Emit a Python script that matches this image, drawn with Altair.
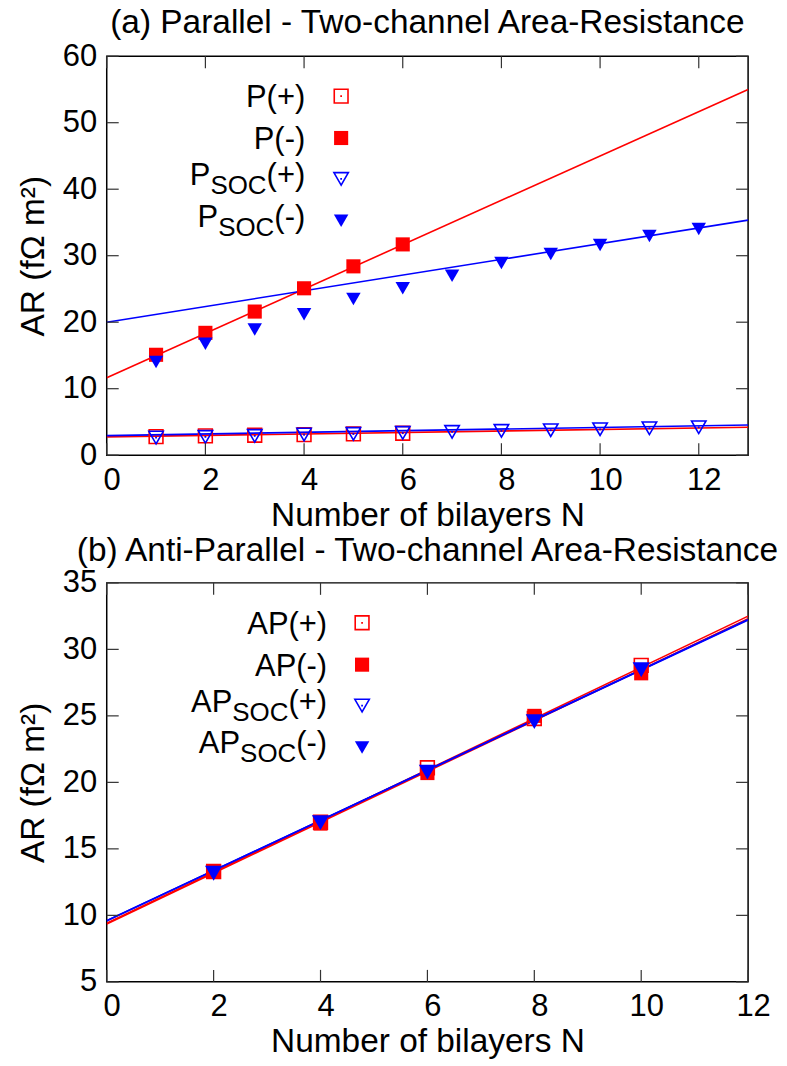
import altair as alt
import pandas as pd

RED = "#ff0000"
BLUE = "#0000ff"
TICKC = "#333333"
FONT = "Liberation Sans"
FS_MAIN = 31
FS_SUB = 26
FS_TITLE = 33.5
W = 643
H = 400
TL = 12

# ---------------- Panel (a): Parallel ----------------
a_n_p = [1, 2, 3, 4, 5, 6]
a_p_plus = [2.8, 2.9, 3.0, 3.1, 3.2, 3.3]
a_p_minus = [15.1, 18.4, 21.6, 25.1, 28.4, 31.7]
a_n_soc = [1, 2, 3, 4, 5, 6, 7, 8, 9, 10, 11, 12]
a_psoc_plus = [2.65, 2.75, 2.9, 3.1, 3.2, 3.35, 3.5, 3.65, 3.75, 3.9, 4.05, 4.2]
a_psoc_minus = [14.0, 16.75, 18.9, 21.2, 23.5, 25.1, 27.0, 28.9, 30.25, 31.6, 32.95, 34.0]

a_fit_n = [0, 13]
a_fit_p_plus = [2.75, 4.2]
a_fit_p_minus = [11.65, 55.0]
a_fit_psoc_plus = [2.95, 4.55]
a_fit_psoc_minus = [20.0, 35.35]

a_xticks = [0, 2, 4, 6, 8, 10, 12]
a_yticks = [0, 10, 20, 30, 40, 50, 60]
a_labels = [["P", "", "(+)"], ["P", "", "(-)"], ["P", "SOC", "(+)"], ["P", "SOC", "(-)"]]

# ---------------- Panel (b): Anti-Parallel ----------------
b_n = [2, 4, 6, 8, 10]
b_ap_plus = [13.3, 17.0, 21.1, 24.8, 28.8]
b_ap_minus = [13.3, 16.9, 20.7, 25.0, 28.2]
b_apsoc_plus = [13.2, 17.0, 20.8, 24.6, 28.5]
b_apsoc_minus = [13.2, 17.0, 20.8, 24.6, 28.5]

b_fit_n = [0, 12]
b_fit_ap_plus = [9.4, 32.5]
b_fit_ap_minus = [9.35, 32.3]
b_fit_apsoc_plus = [9.6, 32.25]
b_fit_apsoc_minus = [9.6, 32.2]

b_xticks = [0, 2, 4, 6, 8, 10, 12]
b_yticks = [5, 10, 15, 20, 25, 30, 35]
b_labels = [["AP", "", "(+)"], ["AP", "", "(-)"], ["AP", "SOC", "(+)"], ["AP", "SOC", "(-)"]]

STYLES = [
    dict(shape="square", filled=False, color=RED, size=190),
    dict(shape="square", filled=True, color=RED, size=200),
    dict(shape="triangle-down", filled=False, color=BLUE, size=210),
    dict(shape="triangle-down", filled=True, color=BLUE, size=210),
]

ADV = {"(": .333, ")": .333, "+": .584, "-": .333, "S": .667, "O": .778, "C": .722,
       "A": .667, "P": .667}


def tw(s, size):
    return sum(ADV.get(c, .556) for c in s) * size


def build(title, xdom, xticks, ydom, yticks, series, fits, labels, xr, xm, rows, toff):
    xs = alt.Scale(domain=xdom, nice=False, zero=False)
    ys = alt.Scale(domain=ydom, nice=False, zero=False)

    def X():
        return alt.X("n:Q", scale=xs, axis=alt.Axis(values=xticks, format="d"),
                     title="Number of bilayers N")

    def Y():
        return alt.Y("ar:Q", scale=ys, axis=alt.Axis(values=yticks, format="d"),
                     title="AR (fΩ m²)")

    layers = []
    for fx, fy, col in fits:
        df = pd.DataFrame({"n": fx, "ar": fy})
        layers.append(alt.Chart(df).mark_line(color=col, strokeWidth=1.6, clip=True)
                      .encode(x=X(), y=Y()))
    for (nx, vals), st in zip(series, STYLES):
        df = pd.DataFrame({"n": nx, "ar": vals})
        layers.append(alt.Chart(df).mark_point(shape=st["shape"], filled=st["filled"],
                                               color=st["color"], size=st["size"],
                                               opacity=1, strokeWidth=1.6)
                      .encode(x=X(), y=Y()))
        if not st["filled"]:
            layers.append(alt.Chart(df).mark_point(shape="square", filled=True,
                                                   color=st["color"], size=3, opacity=1)
                          .encode(x=X(), y=Y()))
    tx = pd.DataFrame({"n": xticks})
    ty = pd.DataFrame({"ar": yticks})
    rule = dict(color=TICKC, strokeWidth=1.2)
    layers.append(alt.Chart(tx).mark_rule(**rule)
                  .encode(x=X(), y=alt.value(H), y2=alt.value(H - TL)))
    layers.append(alt.Chart(tx).mark_rule(**rule)
                  .encode(x=X(), y=alt.value(0), y2=alt.value(TL)))
    layers.append(alt.Chart(ty).mark_rule(**rule)
                  .encode(y=Y(), x=alt.value(0), x2=alt.value(TL)))
    layers.append(alt.Chart(ty).mark_rule(**rule)
                  .encode(y=Y(), x=alt.value(W), x2=alt.value(W - TL)))

    txt = dict(align="right", baseline="alphabetic", font=FONT, color="black")
    for (main, sub, paren), st, ry in zip(labels, STYLES, rows):
        one = pd.DataFrame({"main": [main], "sub": [sub], "paren": [paren]})
        layers.append(alt.Chart(one).mark_point(shape=st["shape"], filled=st["filled"],
                                                color=st["color"], size=st["size"],
                                                opacity=1, strokeWidth=1.6)
                      .encode(x=alt.value(xm), y=alt.value(ry)))
        if not st["filled"]:
            layers.append(alt.Chart(one).mark_point(shape="square", filled=True,
                                                    color=st["color"], size=3, opacity=1)
                          .encode(x=alt.value(xm), y=alt.value(ry)))
        if sub == "":
            layers.append(alt.Chart(one).transform_calculate(lab="datum.main + datum.paren")
                          .mark_text(fontSize=FS_MAIN, **txt)
                          .encode(x=alt.value(xr), y=alt.value(ry + 11), text="lab:N"))
        else:
            wp = tw(paren, FS_MAIN)
            ws = tw(sub, FS_SUB)
            layers.append(alt.Chart(one).mark_text(fontSize=FS_MAIN, **txt)
                          .encode(x=alt.value(xr), y=alt.value(ry + 6), text="paren:N"))
            layers.append(alt.Chart(one).mark_text(fontSize=FS_SUB, **txt)
                          .encode(x=alt.value(xr - wp), y=alt.value(ry + 15), text="sub:N"))
            layers.append(alt.Chart(one).mark_text(fontSize=FS_MAIN, **txt)
                          .encode(x=alt.value(xr - wp - ws), y=alt.value(ry + 6), text="main:N"))

    return alt.layer(*layers).properties(
        width=W, height=H,
        title=alt.TitleParams(title, fontSize=FS_TITLE, font=FONT, fontWeight="normal",
                              color="black", anchor="middle", offset=toff),
    )


rows = [40, 82, 123, 165]

panel_a = build("(a) Parallel - Two-channel Area-Resistance", [0, 13], a_xticks, [0, 60], a_yticks,
                [(a_n_p, a_p_plus), (a_n_p, a_p_minus), (a_n_soc, a_psoc_plus), (a_n_soc, a_psoc_minus)],
                [(a_fit_n, a_fit_p_plus, RED), (a_fit_n, a_fit_p_minus, RED),
                 (a_fit_n, a_fit_psoc_plus, BLUE), (a_fit_n, a_fit_psoc_minus, BLUE)],
                a_labels, 199, 235, rows, 0)

panel_b = build("(b) Anti-Parallel - Two-channel Area-Resistance", [0, 12], b_xticks, [5, 35], b_yticks,
                [(b_n, b_ap_plus), (b_n, b_ap_minus), (b_n, b_apsoc_plus), (b_n, b_apsoc_minus)],
                [(b_fit_n, b_fit_ap_plus, RED), (b_fit_n, b_fit_ap_minus, RED),
                 (b_fit_n, b_fit_apsoc_plus, BLUE), (b_fit_n, b_fit_apsoc_minus, BLUE)],
                b_labels, 221, 256, rows, -2)

chart = alt.vconcat(panel_a, panel_b, spacing=0).properties(
    padding={"left": 15, "top": 3, "right": 5, "bottom": 5}
).configure(background="white").configure_view(
    stroke="black", strokeWidth=1.5
).configure_axis(
    labelFont=FONT, labelFontSize=FS_MAIN, labelColor="black",
    titleFont=FONT, titleFontSize=FS_TITLE, titleColor="black", titleFontWeight="normal",
    ticks=False, domain=False, grid=False, labelFlush=False,
).configure_axisX(labelPadding=10, titlePadding=4, labelOffset=5).configure_axisY(
    labelPadding=10, titlePadding=12)

chart.save("out.html", embed_options={"renderer": "svg", "actions": False})
